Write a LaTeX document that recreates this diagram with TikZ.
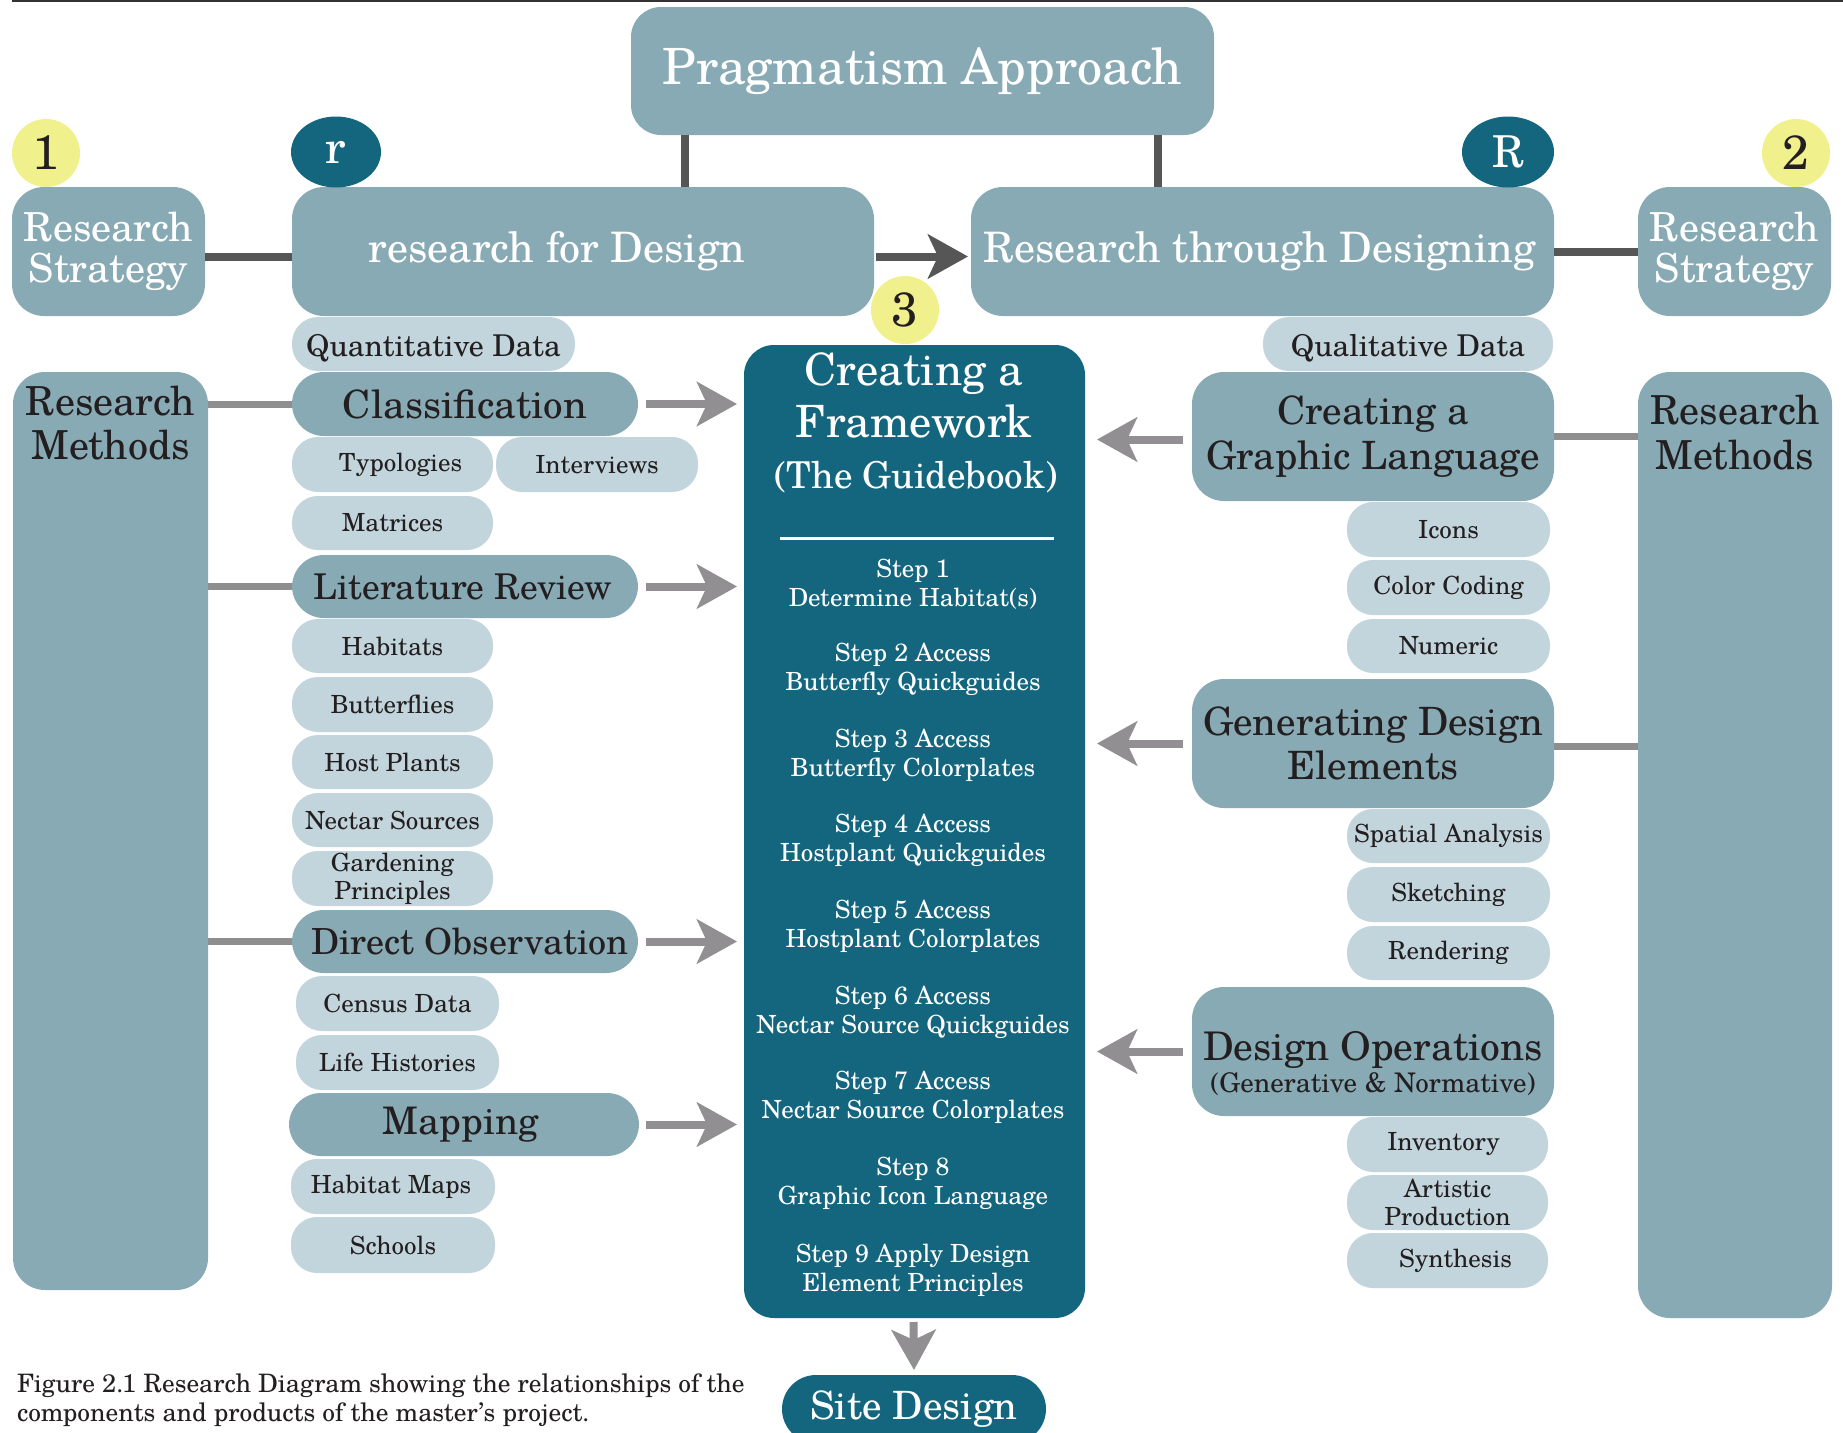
\documentclass[tikz,border=0pt]{standalone}
\usepackage{fontspec}
\setmainfont{TeX Gyre Schola}
\usetikzlibrary{arrows.meta,calc,shapes.geometric}
\definecolor{midc}{HTML}{88AAB4}
\definecolor{lightc}{HTML}{C3D5DC}
\definecolor{darkc}{HTML}{14667E}
\definecolor{yellowc}{HTML}{F0F08C}
\definecolor{conndark}{HTML}{565656}
\definecolor{connlight}{HTML}{8E8E8E}
\definecolor{arrlight}{HTML}{918F91}
\definecolor{textdark}{HTML}{231F20}
\newcommand\fsz[2]{\fontsize{#1}{#2}\selectfont}
\begin{document}
\begin{tikzpicture}[x=1pt,y=-1pt,
  every node/.style={inner sep=0pt,outer sep=0pt},
  mbox/.style={fill=midc,rounded corners=32pt,align=center,text=textdark},
  lpill/.style={fill=lightc,rounded corners=26pt,align=center,text=textdark,font=\fsz{25}{28}},
  dbox/.style={fill=darkc,rounded corners=30pt,align=center,text=white},
  steptext/.style={text=white,align=center,font=\fsz{25}{29}},
  cdark/.style={draw=conndark,line width=8pt},
  clight/.style={draw=connlight,line width=7pt},
  arrD/.style={draw=conndark,line width=8pt,-{Stealth[length=40pt,width=44pt,inset=10pt]}},
  arrL/.style={draw=arrlight,line width=8pt,-{Stealth[length=40pt,width=44pt,inset=10pt]}},
  lbl/.style={align=center,text=textdark}
]
\useasboundingbox (0,0) rectangle (1843,1432);
\clip (0,0) rectangle (1843,1432);
\fill[white] (0,0) rectangle (1843,1432);
\draw[line width=2pt,color=black!80] (12,1) -- (1843,1);

% top level
\node[mbox,rounded corners=30pt,minimum width=583pt,minimum height=128pt,text=white,font=\fsz{50}{54}] (pragm) at (922.5,71) {Pragmatism Approach};
\node[mbox,minimum width=193pt,minimum height=129pt,text=white,font=\fsz{40}{41}] (rs1) at (108.5,251.5) {Research\\Strategy};
\node[mbox,minimum width=582pt,minimum height=129pt,text=white,font=\fsz{42}{42}] (rfd) at (583,251.5) {research for Design\hspace*{52pt}};
\node[mbox,minimum width=583pt,minimum height=129pt,text=white,font=\fsz{42}{42}] (rtd) at (1262.5,251.5) {Research through Designing\hspace*{6pt}};
\node[mbox,minimum width=193pt,minimum height=129pt,text=white,font=\fsz{40}{41}] (rs2) at (1734.5,251.5) {Research\\Strategy};

% circles
\node[circle,fill=yellowc,minimum size=68pt,text=textdark,font=\fsz{48}{48}] (n1) at (46,153) {1};
\node[ellipse,fill=darkc,minimum width=90pt,minimum height=71pt,text=white,font=\fsz{46}{46}] (nr) at (336,152) {r};
\node[ellipse,fill=darkc,minimum width=92pt,minimum height=71pt,text=white,font=\fsz{44}{44}] (nR) at (1508,152) {R};
\node[circle,fill=yellowc,minimum size=68pt,text=textdark,font=\fsz{48}{48}] (n2) at (1796,153) {2};

% connectors top
\coordinate (px1) at (685,0);
\coordinate (px2) at (1158,0);
\draw[cdark] (pragm.south -| px1) -- (rfd.north -| px1);
\draw[cdark] (pragm.south -| px2) -- (rtd.north -| px2);
\draw[cdark] ($(rs1.east)+(0,5)$) -- ($(rfd.west)+(0,5)$);
\draw[cdark] (rtd.east) -- (rs2.west);
\draw[arrD] ($(rfd.east)+(2,5)$) -- ($(rtd.west)+(-3,5)$);

% data pills
\node[lpill,minimum width=283pt,minimum height=54pt,font=\fsz{30}{32},text height=29pt,text depth=5pt] (quant) at (433.5,344) {Quantitative Data};
\node[lpill,minimum width=290pt,minimum height=54pt,font=\fsz{30}{32},text height=29pt,text depth=5pt] (qual) at (1408,344) {Qualitative Data};

% framework
\node[dbox,minimum width=341pt,minimum height=973pt] (frame) at (914.5,831.5) {};
\node[circle,fill=yellowc,minimum size=68pt,text=textdark,font=\fsz{48}{48}] (n3) at (905,310) {3};
\node[anchor=base,text=white,font=\fsz{44.5}{44}] (ft1) at (914,385) {Creating a};
\node[anchor=base,text=white,font=\fsz{44.5}{44}] (ft2) at (914,437) {Framework};
\node[anchor=base,text=white,font=\fsz{37}{37}] (ft3) at (916,488) {(The Guidebook)};
\draw[white,line width=3pt] (780,538) -- (1054,538);
\node[steptext] (s1) at (913,584) {Step 1\\Determine Habitat(s)};
\node[steptext] (s2) at (913,669.6) {Step 2 Access\\Butterfly Quickguides};
\node[steptext] (s3) at (913,755.2) {Step 3 Access\\Butterfly Colorplates};
\node[steptext] (s4) at (913,840.8) {Step 4 Access\\Hostplant Quickguides};
\node[steptext] (s5) at (913,926.4) {Step 5 Access\\Hostplant Colorplates};
\node[steptext] (s6) at (913,1012) {Step 6 Access\\Nectar Source Quickguides};
\node[steptext] (s7) at (913,1097.6) {Step 7 Access\\Nectar Source Colorplates};
\node[steptext] (s8) at (913,1183.2) {Step 8\\Graphic Icon Language};
\node[steptext] (s9) at (913,1269.8) {Step 9 Apply Design\\Element Principles};

\node[dbox,rounded corners=34pt,minimum width=264pt,minimum height=68pt,text=white,font=\fsz{39}{39}] (site) at (914,1409) {Site Design};
\draw[arrL] ($(frame.south)+(-1,4)$) -- ($(site.north)+(0,-5)$);

% left column
\node[mbox,minimum width=195pt,minimum height=918pt] (rm1) at (110.5,831) {};
\node[lbl,anchor=north,font=\fsz{40}{44}] (rm1t) at (110.5,386) {Research\\Methods};

\node[mbox,minimum width=346pt,minimum height=64pt,font=\fsz{39}{39}] (class) at (465,404) {Classification};
\node[lpill,minimum width=201pt,minimum height=55pt] (typ) at (392.5,464.5) {\hspace*{16pt}Typologies};
\node[lpill,minimum width=202pt,minimum height=55pt] (intv) at (597,464.5) {Interviews};
\node[lpill,minimum width=201pt,minimum height=54pt] (matr) at (392.5,523) {Matrices};

\node[mbox,minimum width=346pt,minimum height=63pt,font=\fsz{35.5}{36}] (litrev) at (465,586.5) {Literature Review\hspace*{4pt}};
\node[lpill,minimum width=201pt,minimum height=54pt] (hab) at (392.5,646) {Habitats};
\node[lpill,minimum width=201pt,minimum height=55pt] (butt) at (392.5,704.5) {Butterflies};
\node[lpill,minimum width=201pt,minimum height=54pt] (host) at (392.5,762) {Host Plants};
\node[lpill,minimum width=201pt,minimum height=54pt] (nect) at (392.5,820) {Nectar Sources};
\node[lpill,minimum width=201pt,minimum height=55pt] (gard) at (392.5,878.5) {Gardening\\Principles};

\node[mbox,minimum width=346pt,minimum height=63pt,font=\fsz{36}{36}] (dirobs) at (465,941.5) {\hspace*{10pt}Direct Observation};
\node[lpill,minimum width=203pt,minimum height=55pt] (census) at (397.5,1003.5) {Census Data};
\node[lpill,minimum width=203pt,minimum height=55pt] (life) at (397.5,1062.5) {Life Histories};

\node[mbox,minimum width=350pt,minimum height=63pt,font=\fsz{38}{38}] (mapping) at (464,1124.5) {Mapping\hspace*{6pt}};
\node[lpill,minimum width=204pt,minimum height=55pt] (hmaps) at (393,1186.5) {Habitat Maps\hspace*{4pt}};
\node[lpill,minimum width=204pt,minimum height=56pt] (schools) at (393,1245) {Schools};

\draw[clight] (rm1.east |- class.west) -- (class.west);
\draw[clight] (rm1.east |- litrev.west) -- (litrev.west);
\draw[clight] (rm1.east |- dirobs.west) -- (dirobs.west);
\draw[arrL] ($(class.east)+(8,0)$) -- ($(frame.west |- class.east)+(-7,0)$);
\draw[arrL] ($(litrev.east)+(8,0)$) -- ($(frame.west |- litrev.east)+(-7,0)$);
\draw[arrL] ($(dirobs.east)+(8,0)$) -- ($(frame.west |- dirobs.east)+(-7,0)$);
\draw[arrL] ($(mapping.east)+(7,0)$) -- ($(frame.west |- mapping.east)+(-7,0)$);

% right column
\node[mbox,minimum width=194pt,minimum height=946pt] (rm2) at (1735,845) {};
\node[lbl,anchor=north,font=\fsz{40}{45}] (rm2t) at (1735,395) {Research\\Methods};

\node[mbox,minimum width=362pt,minimum height=129pt,font=\fsz{39}{45}] (cgl) at (1373,436.5) {Creating a\\Graphic Language};
\node[lpill,minimum width=203pt,minimum height=55pt] (icons) at (1448.5,529.5) {Icons};
\node[lpill,minimum width=203pt,minimum height=55pt] (color) at (1448.5,587.5) {Color Coding};
\node[lpill,minimum width=203pt,minimum height=54pt] (numeric) at (1448.5,646) {Numeric};

\node[mbox,minimum width=362pt,minimum height=129pt,font=\fsz{39}{44}] (gde) at (1373,743.5) {Generating Design\\Elements};
\node[lpill,minimum width=203pt,minimum height=54pt] (spatial) at (1448.5,836) {Spatial Analysis};
\node[lpill,minimum width=203pt,minimum height=55pt] (sketch) at (1448.5,894.5) {Sketching};
\node[lpill,minimum width=203pt,minimum height=54pt] (render) at (1448.5,953) {Rendering};

\node[mbox,minimum width=362pt,minimum height=129pt] (desop) at (1373,1051.5) {};
\node[anchor=base,text=textdark,font=\fsz{39.5}{40}] (desopA) at (1373,1060) {Design Operations};
\node[anchor=base,text=textdark,font=\fsz{27}{27}] (desopB) at (1373,1092) {(Generative \& Normative)};
\node[lpill,minimum width=201pt,minimum height=55pt] (inv) at (1447.5,1144.5) {Inventory\hspace*{8pt}};
\node[lpill,minimum width=201pt,minimum height=55pt] (art) at (1447.5,1202.5) {Artistic\\Production};
\node[lpill,minimum width=201pt,minimum height=55pt] (synth) at (1447.5,1260.5) {\hspace*{16pt}Synthesis};

\draw[clight] (cgl.east) -- (rm2.west |- cgl.east);
\draw[clight] ($(gde.east)+(0,3)$) -- ($(rm2.west |- gde.east)+(0,3)$);
\draw[arrL] ($(cgl.west)+(-9,3)$) -- ($(frame.east |- cgl.west)+(12,3)$);
\draw[arrL] ($(gde.west)+(-9,0)$) -- ($(frame.east |- gde.west)+(12,0)$);
\draw[arrL] ($(desop.west)+(-9,0)$) -- ($(frame.east |- desop.west)+(12,0)$);

% caption
\node[anchor=north west,align=left,text=textdark,font=\fsz{25.4}{28.5}] (cap) at (17,1374) {Figure 2.1 Research Diagram showing the relationships of the\\components and products of the master’s project.};
\end{tikzpicture}
\end{document}
